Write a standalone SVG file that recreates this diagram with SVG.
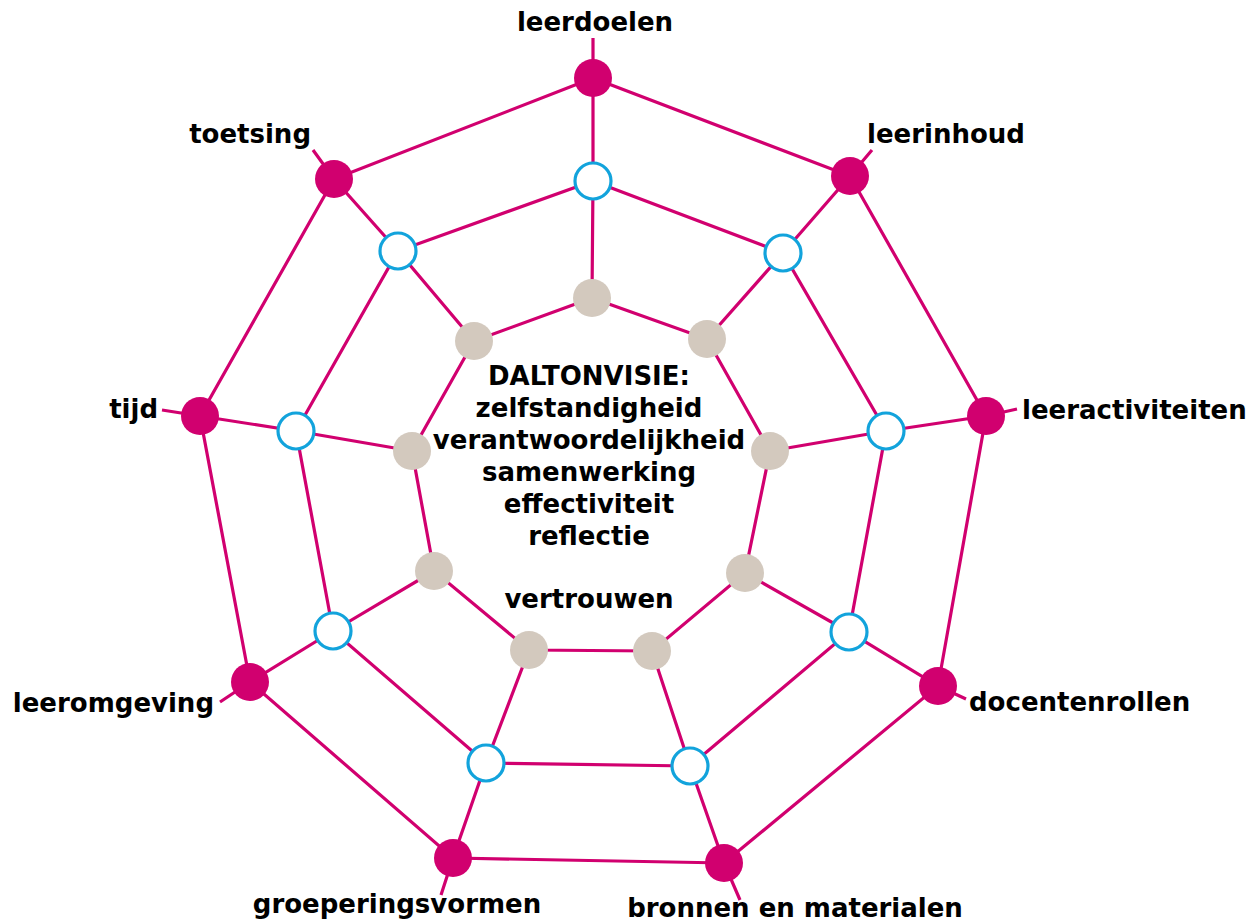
<svg xmlns="http://www.w3.org/2000/svg" width="1247" height="922" viewBox="0 0 1247 922">
<style>
.ln{stroke:#d1006f;stroke-width:3.2;fill:none;stroke-linecap:butt}
.o{fill:#d1006f}
.m{fill:#fff;stroke:#12a3dc;stroke-width:3.2}
.i{fill:#d3c9be}
text{font-family:"DejaVu Sans","Verdana",sans-serif;font-weight:bold;font-size:26px;fill:#000}
.c{text-anchor:middle}
</style>
<rect width="1247" height="922" fill="#fff"/>
<g id="connectors">
<polygon class="ln" points="593,78 850,176 986,416 938,686 724,863 453,858 250,682 200,416 334,179"/>
<polygon class="ln" points="593,181 783,253 886,431 849,632 690,766 486,763 333,631 296,431 398,251"/>
<polygon class="ln" points="592,298 707,339 770,451 745,573 652,651 529,650 434,571 412,451 474,341"/>
<path class="ln" d="M593,38 L593,181 L592,298 M313,150 L334,179 L398,251 L474,341 M872,150 L850,176 L783,253 L707,339 M1017,409 L986,416 L886,431 L770,451 M966,699 L938,686 L849,632 L745,573 M740,900 L724,863 L690,766 L652,651 M441,895 L453,858 L486,763 L529,650 M220,702 L250,682 L333,631 L434,571 M162,410 L200,416 L296,431 L412,451"/>
</g>
<g id="n-leerdoelen"><circle class="o" cx="593" cy="78" r="19"/><text class="c" x="595" y="31">leerdoelen</text></g>
<g id="n-leerinhoud"><circle class="o" cx="850" cy="176" r="19"/><text x="867" y="143">leerinhoud</text></g>
<g id="n-leeractiviteiten"><circle class="o" cx="986" cy="416" r="19"/><text x="1022" y="419">leeractiviteiten</text></g>
<g id="n-docentenrollen"><circle class="o" cx="938" cy="686" r="19"/><text x="969" y="711">docentenrollen</text></g>
<g id="n-bronnen"><circle class="o" cx="724" cy="863" r="19"/><text class="c" x="795" y="917">bronnen en materialen</text></g>
<g id="n-groeperingsvormen"><circle class="o" cx="453" cy="858" r="19"/><text class="c" x="397" y="913">groeperingsvormen</text></g>
<g id="n-leeromgeving"><circle class="o" cx="250" cy="682" r="19"/><text text-anchor="end" x="214" y="712">leeromgeving</text></g>
<g id="n-tijd"><circle class="o" cx="200" cy="416" r="19"/><text text-anchor="end" x="158" y="418">tijd</text></g>
<g id="n-toetsing"><circle class="o" cx="334" cy="179" r="19"/><text text-anchor="end" x="311" y="143">toetsing</text></g>
<g id="middle-ring">
<circle class="m" cx="593" cy="181" r="18"/>
<circle class="m" cx="783" cy="253" r="18"/>
<circle class="m" cx="886" cy="431" r="18"/>
<circle class="m" cx="849" cy="632" r="18"/>
<circle class="m" cx="690" cy="766" r="18"/>
<circle class="m" cx="486" cy="763" r="18"/>
<circle class="m" cx="333" cy="631" r="18"/>
<circle class="m" cx="296" cy="431" r="18"/>
<circle class="m" cx="398" cy="251" r="18"/>
</g>
<g id="inner-ring">
<circle class="i" cx="592" cy="298" r="19"/>
<circle class="i" cx="707" cy="339" r="19"/>
<circle class="i" cx="770" cy="451" r="19"/>
<circle class="i" cx="745" cy="573" r="19"/>
<circle class="i" cx="652" cy="651" r="19"/>
<circle class="i" cx="529" cy="650" r="19"/>
<circle class="i" cx="434" cy="571" r="19"/>
<circle class="i" cx="412" cy="451" r="19"/>
<circle class="i" cx="474" cy="341" r="19"/>
</g>
<g id="center">
<text class="c" x="589" y="385">DALTONVISIE:</text>
<text class="c" x="589" y="417">zelfstandigheid</text>
<text class="c" x="589" y="449">verantwoordelijkheid</text>
<text class="c" x="589" y="481">samenwerking</text>
<text class="c" x="589" y="513">effectiviteit</text>
<text class="c" x="589" y="545">reflectie</text>
<text class="c" x="589" y="608">vertrouwen</text>
</g>
</svg>
